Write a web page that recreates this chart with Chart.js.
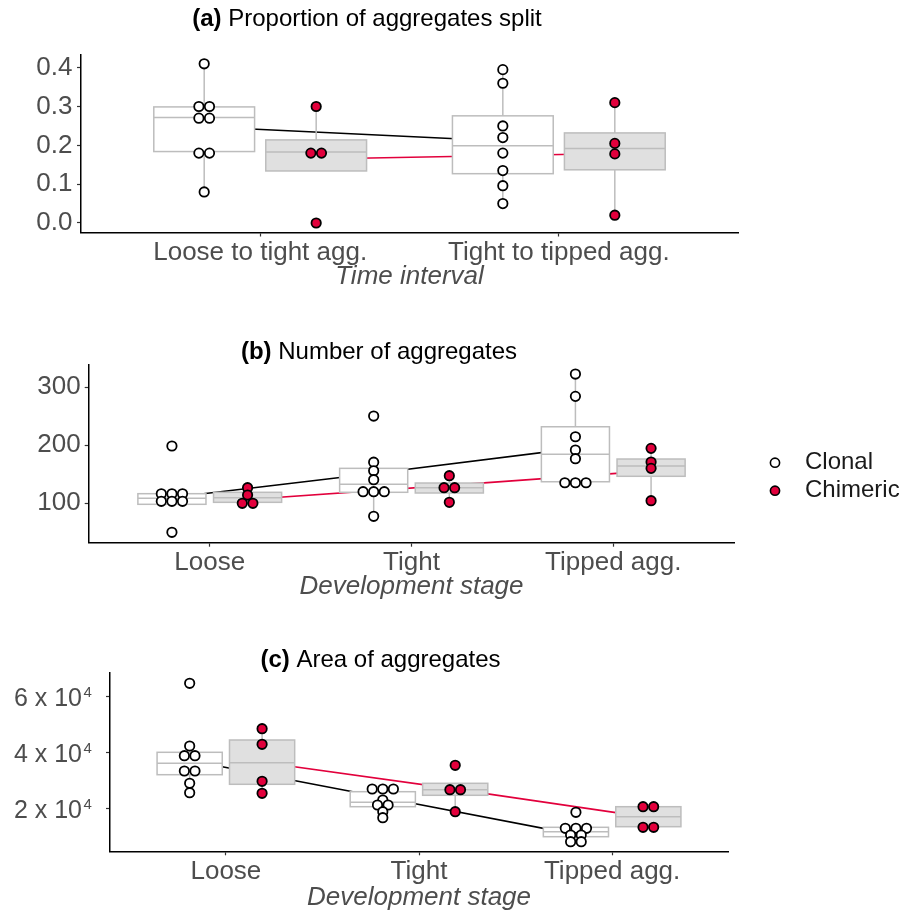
<!DOCTYPE html>
<html><head><meta charset="utf-8">
<script src="https://cdn.jsdelivr.net/npm/chart.js@4.4.1/dist/chart.umd.min.js"></script>
<style>
html,body{margin:0;padding:0;background:#fff;}
#wrap{position:relative;width:919px;height:917px;overflow:hidden;background:#fff;}
canvas{position:absolute;left:0;}
</style></head><body>
<div id="wrap">
<canvas id="ca" width="919" height="305" style="top:0px"></canvas>
<canvas id="cb" width="919" height="305" style="top:305px"></canvas>
<canvas id="cc" width="919" height="307" style="top:610px"></canvas>
</div>
<script>
// ---------------- DATA ----------------
const groupNames = ['Clonal', 'Chimeric'];
const catsA = ['Loose to tight agg.', 'Tight to tipped agg.'];
const catsBC = ['Loose', 'Tight', 'Tipped agg.'];

const yTicksA = [0, 0.1, 0.2, 0.3, 0.4];
const yLabelsA = ['0.0', '0.1', '0.2', '0.3', '0.4'];
const yTicksB = [100, 200, 300];
const yLabelsB = ['100', '200', '300'];
const yTicksC = [20000, 40000, 60000];
const yLabelsC = ['2 x 10', '4 x 10', '6 x 10'];
const yExpC = ['4', '4', '4'];

// (a) Proportion of aggregates split
const aClonalPts = [[0.41, 0.30, 0.30, 0.27, 0.27, 0.18, 0.18, 0.08],
                    [0.395, 0.36, 0.25, 0.22, 0.18, 0.135, 0.096, 0.05]];
const aChimericPts = [[0.30, 0.18, 0.18, 0.00],
                      [0.31, 0.205, 0.178, 0.02]];
// box stats: [lower whisker, q1, median, q3, upper whisker]
const aClonalBox = [[0.08, 0.184, 0.272, 0.299, 0.41],
                    [0.05, 0.127, 0.199, 0.276, 0.395]];
const aChimericBox = [[0.134, 0.134, 0.183, 0.214, 0.30],
                      [0.02, 0.137, 0.192, 0.232, 0.31]];
const aClonalMean = [0.248, 0.211];
const aChimericMean = [0.165, 0.179];

// (b) Number of aggregates
const bClonalPts = [[198.8, 116.5, 116.5, 116.5, 103.5, 103.5, 103.5, 50],
                    [250.5, 170.9, 156.2, 140.7, 120, 120, 120, 77.6],
                    [322.9, 284.4, 214.8, 191.9, 176.9, 135.5, 135.5, 135.5]];
const bChimericPts = [[126.9, 114.3, 100, 100],
                      [147.6, 126.9, 126.9, 101.7],
                      [194.8, 171.2, 160.3, 104.5]];
const bClonalBox = [[98.3, 98.3, 108.6, 116.6, 116.6],
                    [77.6, 119, 132.8, 160.3, 170.9],
                    [135.5, 137.2, 184.5, 232, 322.9]];
const bChimericBox = [[100, 101.7, 109.7, 119, 126.9],
                      [101.7, 117.8, 126.9, 135, 147.6],
                      [104.5, 146.6, 164.3, 176.4, 194.8]];
const bClonalMean = [110, 151.5, 194.7];
const bChimericMean = [106.7, 131, 156];

// (c) Area of aggregates
const cClonalPts = [[64786, 42393, 38929, 38929, 33464, 33464, 29071, 25714],
                    [27036, 27036, 27036, 23107, 21321, 21321, 18929, 16786],
                    [18714, 13000, 13000, 13000, 10607, 10607, 8214, 8214]];
const cChimericPts = [[48571, 43000, 29786, 25500],
                      [35500, 26786, 26786, 18929],
                      [20714, 20714, 13357, 13357]];
const cClonalBox = [[25714, 32143, 36214, 40143, 42393],
                    [16786, 20714, 22286, 26071, 27036],
                    [8214, 10000, 11786, 13357, 13357]];
const cChimericBox = [[25500, 28714, 36429, 44536, 48571],
                      [18929, 24786, 26786, 29071, 29071],
                      [13357, 13571, 17143, 20714, 20714]];
const cClonalMean = [37200, 24000, 10750];
const cChimericMean = [36600, 27000, 16900];

// ---------------- STYLE ----------------
const FONT = '"Liberation Sans", Arial, Helvetica, sans-serif';
const TICK_SIZE = 26;
const AXTITLE_SIZE = 26;
const RED = '#E2003C';
const BOX_LINE = '#bdbdbd';
const FILLS = ['#ffffff', '#e0e0e0'];
const DOT_FILL = ['#ffffff', RED];
const LINE_COL = ['#000000', RED];
const DODGE = [-0.1875, 0.1875];
const BOX_W = 0.3375;
const DOT_SPACING_PX = 10.6;
const W = 919;

Chart.defaults.font.family = FONT;

function stackPoints(vals, base, dx) {
  const counts = {}, placed = {};
  vals.forEach(v => { const k = v.toFixed(6); counts[k] = (counts[k] || 0) + 1; });
  return vals.map(v => {
    const k = v.toFixed(6);
    const n = counts[k];
    const j = placed[k] = (placed[k] || 0) + 1;
    return { x: base + (j - 1 - (n - 1) / 2) * dx, y: v };
  });
}

function boxPlugin(boxes) {
  return {
    id: 'boxes',
    beforeDatasetDraw(chart, args) {
      if (args.index !== 1) return;
      const { ctx } = chart;
      const xs = chart.scales.x, ys = chart.scales.y;
      ctx.save();
      ctx.lineWidth = 1.5;
      ctx.strokeStyle = BOX_LINE;
      boxes.forEach((grp, g) => {
        grp.forEach((st, i) => {
          const c = i + 1 + DODGE[g];
          const xl = xs.getPixelForValue(c - BOX_W / 2);
          const xr = xs.getPixelForValue(c + BOX_W / 2);
          const xc = xs.getPixelForValue(c);
          const [lo, q1, med, q3, hi] = st.map(v => ys.getPixelForValue(v));
          ctx.beginPath();
          ctx.moveTo(xc, q3); ctx.lineTo(xc, hi);
          ctx.moveTo(xc, q1); ctx.lineTo(xc, lo);
          ctx.stroke();
          ctx.fillStyle = FILLS[g];
          ctx.fillRect(xl, q3, xr - xl, q1 - q3);
          ctx.strokeRect(xl, q3, xr - xl, q1 - q3);
          ctx.beginPath();
          ctx.moveTo(xl, med); ctx.lineTo(xr, med);
          ctx.stroke();
        });
      });
      ctx.restore();
    }
  };
}

function titlePlugin(tag, text, cx, cy) {
  return {
    id: 'ptitle',
    afterDraw(chart) {
      const ctx = chart.ctx;
      ctx.save();
      ctx.fillStyle = '#000';
      ctx.textBaseline = 'middle';
      ctx.textAlign = 'left';
      ctx.font = 'bold 24px ' + FONT;
      const w1 = ctx.measureText(tag + ' ').width;
      ctx.font = '24px ' + FONT;
      const w2 = ctx.measureText(text).width;
      const x = cx - (w1 + w2) / 2;
      ctx.font = 'bold 24px ' + FONT;
      ctx.fillText(tag, x, cy);
      ctx.font = '24px ' + FONT;
      ctx.fillText(text, x + w1, cy);
      ctx.restore();
    }
  };
}

// superscript exponents for the y tick labels of panel (c)
function exponentPlugin(ticks, exps, pad) {
  return {
    id: 'yexp',
    afterDraw(chart) {
      const ctx = chart.ctx;
      const ys = chart.scales.y;
      const x0 = chart.chartArea.left - 4 - pad + 1.5;
      ctx.save();
      ctx.fillStyle = '#4d4d4d';
      ctx.font = '15px ' + FONT;
      ctx.textAlign = 'left';
      ctx.textBaseline = 'middle';
      ticks.forEach((v, i) => {
        ctx.fillText(exps[i], x0, ys.getPixelForValue(v) - 3.5);
      });
      ctx.restore();
    }
  };
}

const legendPlugin = {
  id: 'plegend',
  afterDraw(chart) {
    const ctx = chart.ctx;
    ctx.save();
    const ys = [157.7, 185.7];
    groupNames.forEach((name, g) => {
      ctx.beginPath();
      ctx.arc(775, ys[g], 4.6, 0, Math.PI * 2);
      ctx.fillStyle = DOT_FILL[g];
      ctx.fill();
      ctx.lineWidth = 1.6;
      ctx.strokeStyle = '#000';
      ctx.stroke();
      ctx.fillStyle = '#1a1a1a';
      ctx.font = '24px ' + FONT;
      ctx.textBaseline = 'middle';
      ctx.textAlign = 'left';
      ctx.fillText(name, 805, ys[g]);
    });
    ctx.restore();
  }
};

function makePanel(id, P) {
  const nC = P.cats.length;
  const xmin = 0.4, xmax = nC + 0.6;
  const dx = DOT_SPACING_PX * (xmax - xmin) / (P.L.right - P.L.left);
  const pts = [P.clonalPts, P.chimericPts].map((grp, g) =>
    grp.flatMap((vals, i) => stackPoints(vals, i + 1 + DODGE[g], dx)));
  const means = [P.clonalMean, P.chimericMean].map((m, g) =>
    m.map((v, i) => ({ x: i + 1 + DODGE[g], y: v })));
  const titleBottom = P.L.xTitleMid + AXTITLE_SIZE * 0.6;
  const padBottom = P.L.H - titleBottom;
  const xAxisH = titleBottom - P.L.bottom;

  const axisCommon = {
    grid: { display: true, drawOnChartArea: false, drawTicks: true, tickLength: 4, tickColor: '#333', tickWidth: 1.2 },
    border: { display: true, color: '#000', width: 1.5 }
  };

  const datasets = [];
  [0, 1].forEach(g => {
    datasets.push({
      type: 'scatter', label: groupNames[g], data: pts[g], order: g,
      pointRadius: 4.7, pointHoverRadius: 4.7, pointBorderWidth: 1.8,
      pointBackgroundColor: DOT_FILL[g], pointBorderColor: '#000'
    });
  });
  [0, 1].forEach(g => {
    datasets.push({
      type: 'line', label: groupNames[g] + ' mean', data: means[g], order: 2 + g,
      borderColor: LINE_COL[g], borderWidth: 1.6, pointRadius: 0, fill: false, tension: 0
    });
  });

  const plugins = [boxPlugin([P.clonalBox, P.chimericBox]), titlePlugin(P.tag, P.title, P.L.cx, P.L.cy)];
  if (P.legend) plugins.push(legendPlugin);
  if (P.yExp) plugins.push(exponentPlugin(P.yTicks, P.yExp, P.yPad));

  new Chart(document.getElementById(id), {
    type: 'scatter',
    data: { datasets },
    plugins,
    options: {
      responsive: false,
      animation: false,
      events: [],
      layout: { autoPadding: false, padding: { left: 0, right: W - P.L.right, top: P.L.top, bottom: padBottom } },
      plugins: { legend: { display: false }, tooltip: { enabled: false }, title: { display: false } },
      scales: {
        x: Object.assign({
          type: 'linear', min: xmin, max: xmax,
          afterBuildTicks: s => { s.ticks = P.cats.map((c, i) => ({ value: i + 1 })); },
          afterFit: s => { s.height = xAxisH; },
          ticks: {
            callback: (v, i) => P.cats[i], autoSkip: false, maxRotation: 0, minRotation: 0,
            font: { size: TICK_SIZE, family: FONT }, color: '#4d4d4d', padding: 1
          },
          title: { display: true, text: P.xTitle, color: '#4d4d4d', padding: 0,
                   font: { size: AXTITLE_SIZE, style: 'italic', family: FONT, lineHeight: 1.2 } }
        }, axisCommon),
        y: Object.assign({
          type: 'linear', min: P.ymin, max: P.ymax,
          afterBuildTicks: s => { s.ticks = P.yTicks.map(v => ({ value: v })); },
          afterFit: s => { s.width = P.L.left; },
          ticks: {
            callback: (v, i) => P.yLabels[i],
            font: { size: P.ySize || TICK_SIZE, family: FONT }, color: '#4d4d4d', padding: P.yPad,
            labelOffset: P.yLabelOffset || 0
          }
        }, axisCommon)
      }
    }
  });
}

makePanel('ca', {
  cats: catsA, tag: '(a)', title: 'Proportion of aggregates split', xTitle: 'Time interval',
  clonalPts: aClonalPts, chimericPts: aChimericPts, clonalBox: aClonalBox, chimericBox: aChimericBox,
  clonalMean: aClonalMean, chimericMean: aChimericMean,
  yTicks: yTicksA, yLabels: yLabelsA, ymin: -0.0245, ymax: 0.434, yPad: 4.5,
  L: { H: 305, left: 81, right: 738, top: 54.5, bottom: 232.5, xTitleMid: 276.5, cx: 367, cy: 19.5 }
});
makePanel('cb', {
  cats: catsBC, tag: '(b)', title: 'Number of aggregates', xTitle: 'Development stage',
  clonalPts: bClonalPts, chimericPts: bChimericPts, clonalBox: bClonalBox, chimericBox: bChimericBox,
  clonalMean: bClonalMean, chimericMean: bChimericMean,
  yTicks: yTicksB, yLabels: yLabelsB, ymin: 32.1, ymax: 339.7, yPad: 4,
  legend: true,
  L: { H: 305, left: 88.7, right: 734.3, top: 59.3, bottom: 237.7, xTitleMid: 282, cx: 379, cy: 47 }
});
makePanel('cc', {
  cats: catsBC, tag: '(c)', title: 'Area of aggregates', xTitle: 'Development stage',
  clonalPts: cClonalPts, chimericPts: cChimericPts, clonalBox: cClonalBox, chimericBox: cChimericBox,
  clonalMean: cClonalMean, chimericMean: cChimericMean,
  yTicks: yTicksC, yLabels: yLabelsC, yExp: yExpC, ySize: 25, ymin: 4786, ymax: 68571, yPad: 24, yLabelOffset: 2,
  L: { H: 307, left: 110, right: 728, top: 62.7, bottom: 241.3, xTitleMid: 288, cx: 380.5, cy: 50 }
});
</script>
</body></html>
